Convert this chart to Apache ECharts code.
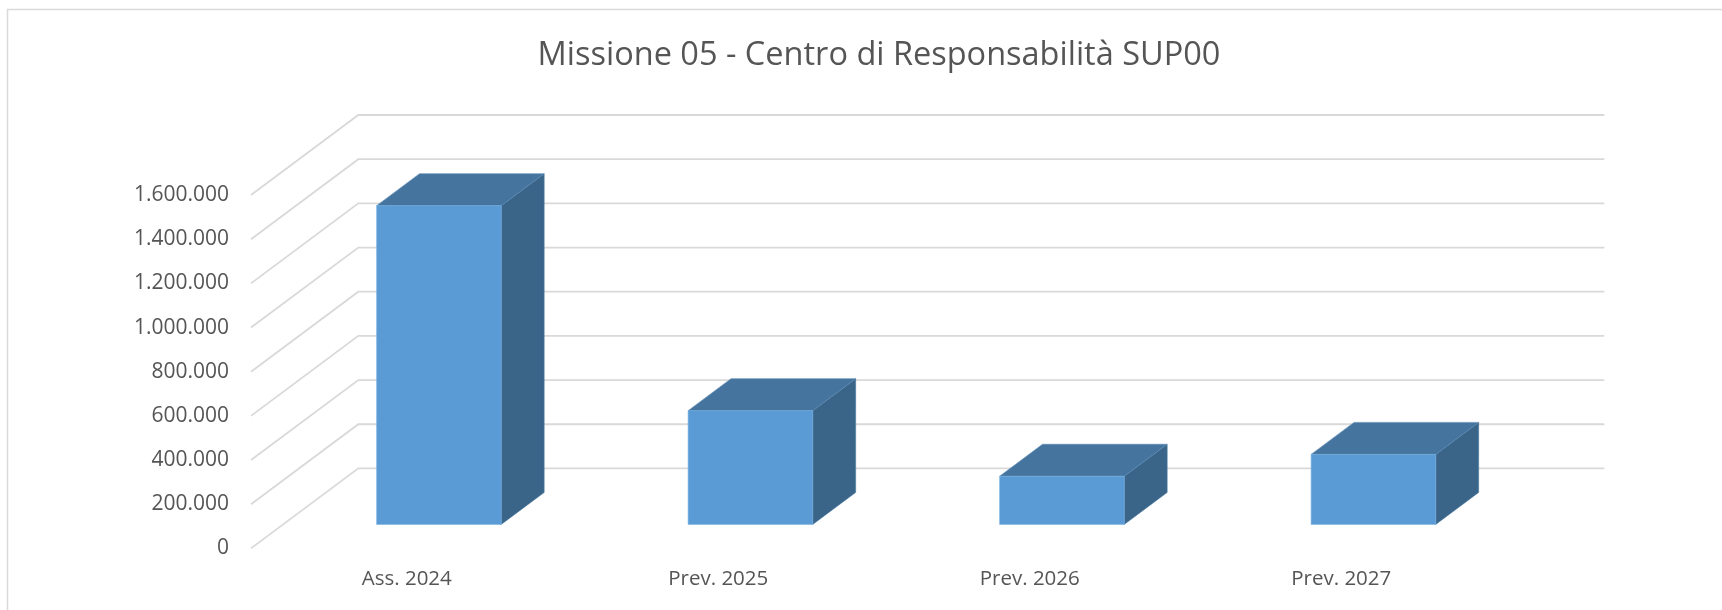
<!DOCTYPE html>
<html>
<head>
<meta charset="utf-8">
<script src="https://cdn.jsdelivr.net/npm/echarts@6/dist/echarts.min.js"></script>
<style>
  html, body { margin: 0; padding: 0; background: #ffffff; }
  #chart { width: 1722px; height: 610px; }
</style>
</head>
<body>
<div id="chart"></div>
<script>
// ---- data ----
const titleText = 'Missione 05 - Centro di Responsabilità SUP00';
const categories = ['Ass. 2024', 'Prev. 2025', 'Prev. 2026', 'Prev. 2027'];
const values = [1443000, 515000, 218000, 317000];
const yTicks = [0, 200000, 400000, 600000, 800000, 1000000, 1200000, 1400000, 1600000];

// ---- styling constants (3D projection) ----
const DX = 107.3;   // depth offset x (front -> back wall)
const DY = -80;     // depth offset y
const BAR_W = 0.4;  // bar width as fraction of category
const D0 = 0.3, D1 = 0.7; // bar depth span
const FONT = '"Open Sans", Lato, sans-serif';
const TXT = '#555555';

function fmt(v) {
  return String(v).replace(/\B(?=(\d{3})+(?!\d))/g, '.');
}

const chart = echarts.init(document.getElementById('chart'), null, { renderer: 'canvas' });

const option = {
  backgroundColor: '#ffffff',
  animation: false,
  title: {
    text: titleText,
    left: 874,
    textAlign: 'center',
    top: 34,
    textStyle: { fontFamily: FONT, fontSize: 32.5, fontWeight: 'normal', color: TXT }
  },
  graphic: [{
    type: 'rect',
    shape: { x: 7.5, y: 9.5, width: 1730, height: 620 },
    style: { fill: 'none', stroke: '#d9d9d9', lineWidth: 1.5 },
    silent: true
  }],
  grid: { left: 251, right: 225, top: 195, bottom: 61.6, containLabel: false },
  xAxis: {
    type: 'category',
    data: categories,
    axisLine: { show: false },
    axisTick: { show: false },
    axisLabel: { fontFamily: FONT, fontSize: 20.5, color: TXT, margin: 20 }
  },
  yAxis: {
    type: 'value',
    min: 0,
    max: 1600000,
    interval: 200000,
    axisLine: { show: false },
    axisTick: { show: false },
    splitLine: { show: false },
    axisLabel: { fontFamily: FONT, fontSize: 21, color: TXT, margin: 22, formatter: fmt }
  },
  series: [
    {
      type: 'custom',
      name: 'grid3d',
      silent: true,
      z: 1,
      data: yTicks.map(v => [0, v]),
      renderItem: function (params, api) {
        const cs = params.coordSys;
        const y = api.coord([0, api.value(1)])[1];
        return {
          type: 'polyline',
          shape: { points: [[cs.x, y], [cs.x + DX, y + DY], [cs.x + cs.width + DX, y + DY]] },
          style: { stroke: '#d9d9d9', lineWidth: 1.8, fill: 'none' }
        };
      }
    },
    {
      type: 'custom',
      name: 'bars',
      z: 2,
      data: values.map((v, i) => [i, v]),
      renderItem: function (params, api) {
        const i = api.value(0);
        const base = api.coord([i, 0]);
        const top = api.coord([i, api.value(1)]);
        const bw = api.size([1, 0])[0];
        const x0 = base[0] - bw * BAR_W / 2 + D0 * DX;
        const x1 = x0 + bw * BAR_W;
        const yb = base[1] + D0 * DY;
        const yt = top[1] + D0 * DY;
        const ddx = (D1 - D0) * DX, ddy = (D1 - D0) * DY;
        return {
          type: 'group',
          children: [
            {
              type: 'polygon',
              shape: { points: [[x1, yt], [x1 + ddx, yt + ddy], [x1 + ddx, yb + ddy], [x1, yb]] },
              style: { fill: '#3a6589', stroke: '#4a7aa3', lineWidth: 0.6 }
            },
            {
              type: 'polygon',
              shape: { points: [[x0, yt], [x0 + ddx, yt + ddy], [x1 + ddx, yt + ddy], [x1, yt]] },
              style: { fill: '#45759f', stroke: '#5a8ab5', lineWidth: 0.6 }
            },
            {
              type: 'rect',
              shape: { x: x0, y: yt, width: x1 - x0, height: yb - yt },
              style: { fill: '#5b9bd5', stroke: '#74aee0', lineWidth: 0.6 }
            }
          ]
        };
      }
    }
  ]
};

chart.setOption(option);
</script>
</body>
</html>
